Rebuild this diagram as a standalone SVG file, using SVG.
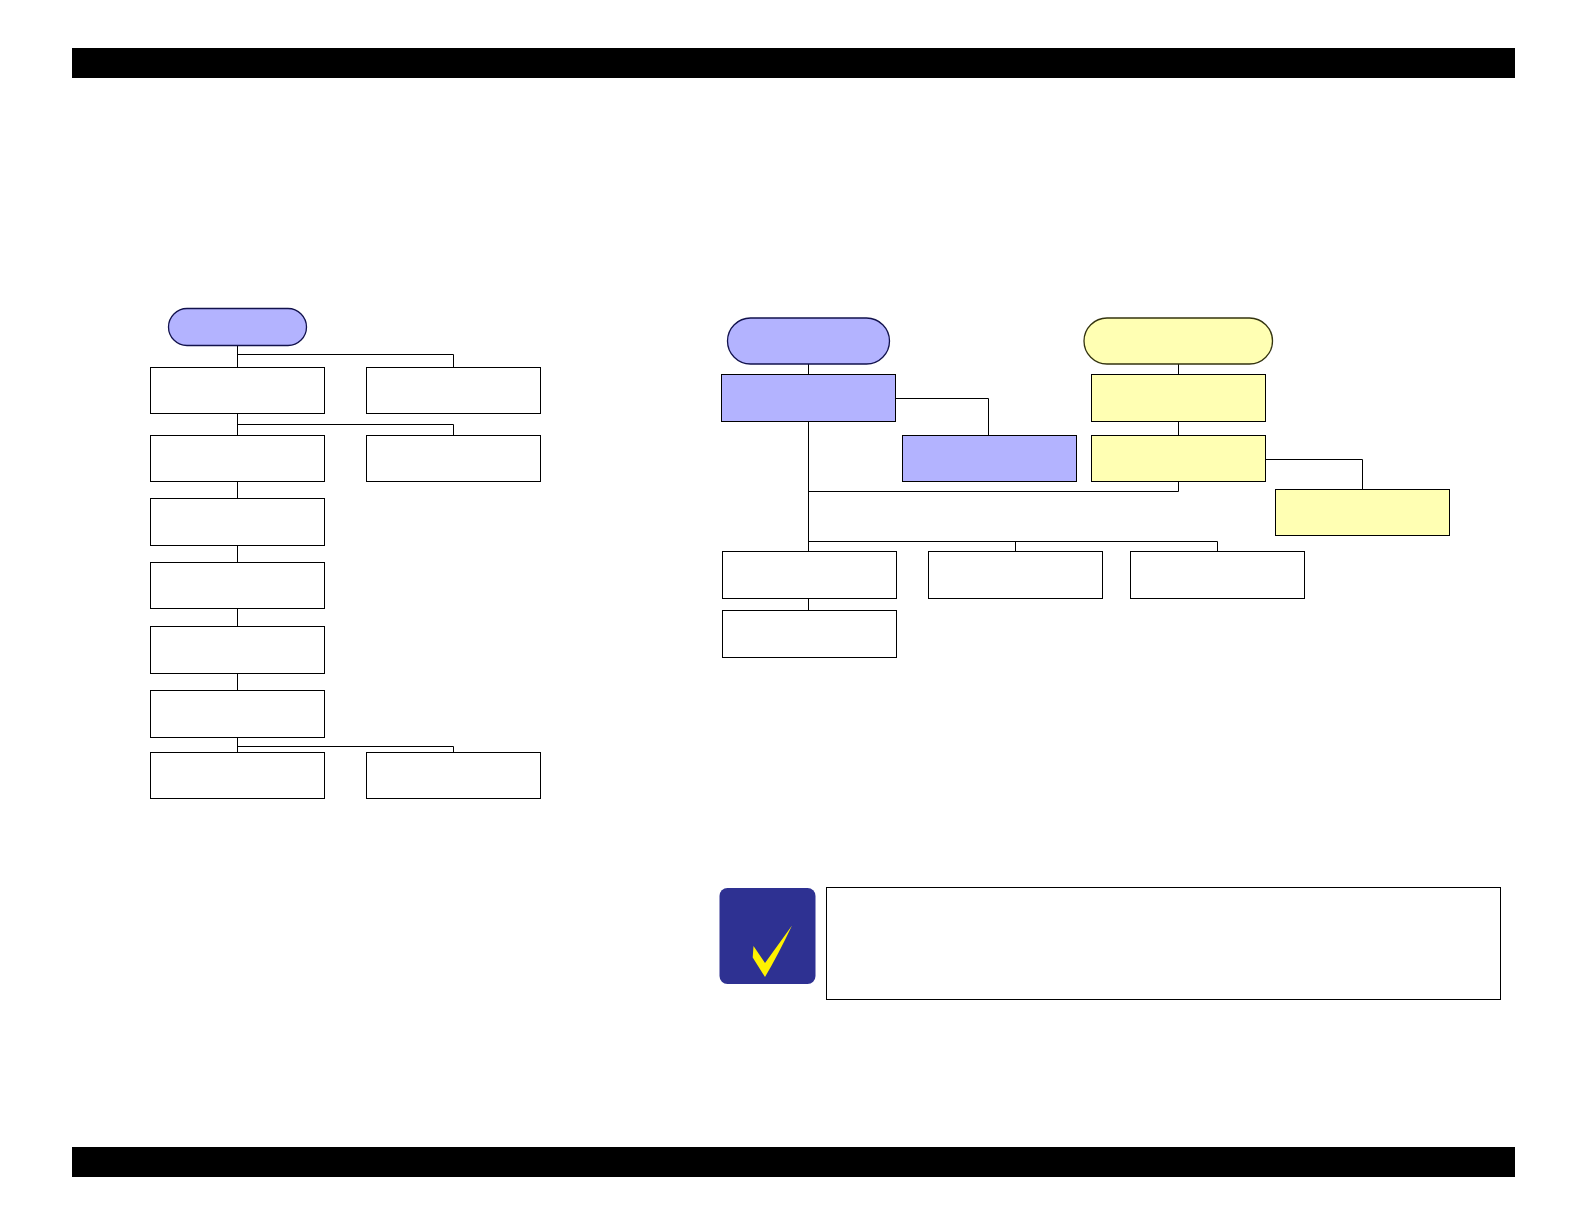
<svg xmlns="http://www.w3.org/2000/svg" width="1584" height="1224" viewBox="0 0 1584 1224">
<style>
.b{fill:#fff;stroke:#000;stroke-width:1}
.bl{fill:#B3B3FF;stroke:#000;stroke-width:1}
.ye{fill:#FFFFB3;stroke:#000;stroke-width:1}
.pb{fill:#B3B3FF;stroke:#12124d;stroke-width:1.3}
.py{fill:#FFFFB3;stroke:#33330f;stroke-width:1.3}
.c{fill:none;stroke:#000;stroke-width:1}
</style>
<rect width="1584" height="1224" fill="#fff"/>
<rect id="header-bar" x="72" y="48" width="1443" height="30" fill="#000"/>
<rect id="footer-bar" x="72" y="1147" width="1443" height="30" fill="#000"/>
<g id="connectors">
<path class="c" d="M237.5 345V367.5M237.5 354.5H453.5V367.5"/>
<path class="c" d="M237.5 413.5V435.5M237.5 424.5H453.5V435.5"/>
<path class="c" d="M237.5 481.5V498.5M237.5 545.5V562.5M237.5 608.5V626.5M237.5 673.5V690.5"/>
<path class="c" d="M237.5 737.5V752.5M237.5 746.5H453.5V752.5"/>
<path class="c" d="M808.5 364V374.5M808.5 421.5V551.5M895.5 398.5H988.5V435.5"/>
<path class="c" d="M808.5 491.5H1178.5V481.5"/>
<path class="c" d="M808.5 541.5H1217.5V551.5M1015.5 541.5V551.5M808.5 598.5V610.5"/>
<path class="c" d="M1178.5 364V374.5M1178.5 421.5V435.5M1265.5 459.5H1362.5V489.5"/>
</g>
<g id="l-start"><rect class="pb" x="168.5" y="308.5" width="138" height="37" rx="18.5"/></g>
<g id="l1"><rect class="b" x="150.5" y="367.5" width="174" height="46"/></g>
<g id="l1r"><rect class="b" x="366.5" y="367.5" width="174" height="46"/></g>
<g id="l2"><rect class="b" x="150.5" y="435.5" width="174" height="46"/></g>
<g id="l2r"><rect class="b" x="366.5" y="435.5" width="174" height="46"/></g>
<g id="l3"><rect class="b" x="150.5" y="498.5" width="174" height="47"/></g>
<g id="l4"><rect class="b" x="150.5" y="562.5" width="174" height="46"/></g>
<g id="l5"><rect class="b" x="150.5" y="626.5" width="174" height="47"/></g>
<g id="l6"><rect class="b" x="150.5" y="690.5" width="174" height="47"/></g>
<g id="l7"><rect class="b" x="150.5" y="752.5" width="174" height="46"/></g>
<g id="l7r"><rect class="b" x="366.5" y="752.5" width="174" height="46"/></g>
<g id="r-start-blue"><rect class="pb" x="727.5" y="318" width="162" height="46" rx="23"/></g>
<g id="r-blue1"><rect class="bl" x="721.5" y="374.5" width="174" height="47"/></g>
<g id="r-blue2"><rect class="bl" x="902.5" y="435.5" width="174" height="46"/></g>
<g id="r-start-yellow"><rect class="py" x="1084" y="318" width="188.500" height="46" rx="23"/></g>
<g id="r-yellow1"><rect class="ye" x="1091.5" y="374.5" width="174" height="47"/></g>
<g id="r-yellow2"><rect class="ye" x="1091.5" y="435.5" width="174" height="46"/></g>
<g id="r-yellow3"><rect class="ye" x="1275.5" y="489.5" width="174" height="46"/></g>
<g id="r-w1"><rect class="b" x="722.5" y="551.5" width="174" height="47"/></g>
<g id="r-w2"><rect class="b" x="928.5" y="551.5" width="174" height="47"/></g>
<g id="r-w3"><rect class="b" x="1130.5" y="551.5" width="174" height="47"/></g>
<g id="r-w4"><rect class="b" x="722.5" y="610.5" width="174" height="47"/></g>
<g id="note-icon">
<rect x="719.5" y="888" width="96" height="96" rx="8" fill="#2E3192"/>
<path d="M792 925.5Q778 955 765 977L752.7 957.5L753.5 946L765 963Q778 945 792 925.500Z" fill="#FFF200"/>
</g>
<g id="note-box"><rect class="b" x="826.5" y="887.5" width="674" height="112"/></g>
</svg>
